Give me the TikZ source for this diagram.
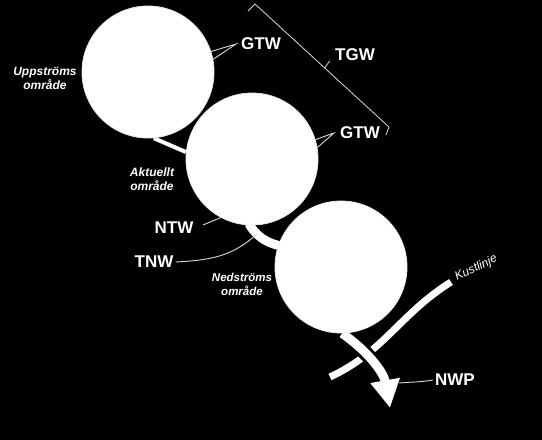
\documentclass[tikz,border=0pt]{standalone}
\usepackage{fontspec}
\setmainfont{Liberation Sans}
\usetikzlibrary{arrows.meta,calc}
\pgfdeclarelayer{background}
\pgfsetlayers{background,main}
\begin{document}
\begin{tikzpicture}[x=1pt, y=-1pt,
  area/.style={circle, fill=white, draw=black!8, line width=0.8pt, minimum size=132pt, inner sep=0pt},
  tag/.style={text=white, font=\fontsize{17}{20}\selectfont\bfseries, inner sep=2pt},
  region/.style={text=white, font=\fontsize{12}{14}\selectfont\bfseries\itshape, align=center},
  leader/.style={draw=white!85!black, line width=0.9pt},
  river/.style={draw=white, line width=9pt, line cap=round},
  riverback/.style={draw=black, line width=15pt},
  >={Triangle[length=28pt,width=28pt]}
]
\begin{pgfonlayer}{background}
\fill[black] (0,0) rectangle (542,440);
\end{pgfonlayer}
\useasboundingbox (0,0) rectangle (542,440);

\node[area] (up)   at (148,72)  {};
\node[area] (cur)  at (252,159) {};
\node[area] (down) at (341,267) {};

\node[region] (uplbl)   at (45,78)  {Uppströms\\område};
\node[region] (curlbl)  at (152,179) {Aktuellt\\område};
\node[region, font=\fontsize{11.5}{14}\selectfont\bfseries\itshape] (downlbl) at (242,284) {Nedströms\\område};

\node[tag] (gtwA) at (261,44)  {GTW};
\node[tag] (gtwB) at (360,133) {GTW};
\node[tag] (tgw)  at (355,55)  {TGW};
\node[tag] (ntw)  at (174,228) {NTW};
\node[tag] (tnw)  at (154,262) {TNW};
\node[tag] (nwp)  at (455,380) {NWP};

\coordinate (coastA) at (451,282);
\coordinate (coastB) at (330,377);
\coordinate (mouth)  at (390,408);
\coordinate (nwpend) at (399,383);
\coordinate (brtop)  at (255,4);
\coordinate (brbot)  at (389,127);

\node[text=white, font=\fontsize{12}{14}\selectfont\itshape, rotate=26, anchor=base west, inner sep=0pt] (kust) at (457,281) {Kustlinje};

% rivers and coast behind the circles
\begin{pgfonlayer}{background}
\draw[white, line width=4pt] (up.275) -- (cur.174);
\draw[riverback] (cur.268) to[out=-55,in=165] (down.161);
\draw[river] (cur.268) to[out=-55,in=165] coordinate[pos=0.3] (tnwend) (down.161);
\draw[draw=black, line width=13pt] (coastA) to[out=212,in=25] (coastB);
\draw[draw=white, line width=7pt] (coastA) to[out=212,in=25] (coastB);
\draw[riverback, shorten >=22pt] (down.271) to[out=-35,in=100] (mouth);
\draw[river, line cap=butt, ->] (down.271) to[out=-35,in=100] (mouth);
\end{pgfonlayer}

\draw[leader] (up.18) -- ([xshift=-3pt]gtwA.west) -- (up.11);
\draw[leader] (cur.17) -- ([xshift=-4pt]gtwB.west) -- (cur.10);
\draw[leader, shorten <=8pt] (ntw.east) -- (cur.242);
\draw[leader] (tnw.east) to[out=3,in=223] (tnwend);
\draw[leader] (nwp.west) to[out=190,in=5] (nwpend);
\draw[leader, line width=0.8pt] ([shift={(-7,7)}]brtop) -- (brtop) -- (brbot) -- ++(-3,8);
\draw[leader, line width=0.8pt] ($(brtop)!0.52!(brbot)$) -- ++(5,-7);
\end{tikzpicture}
\end{document}
